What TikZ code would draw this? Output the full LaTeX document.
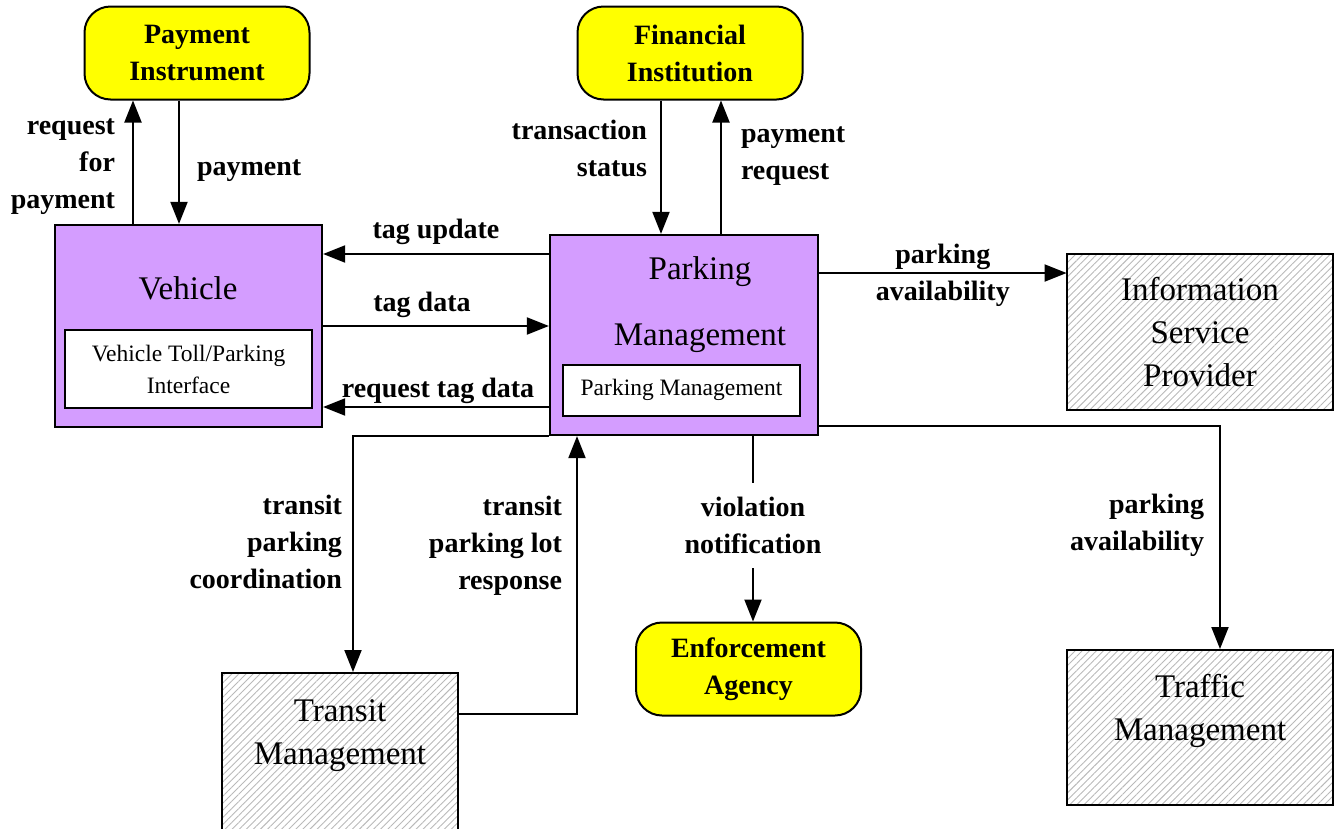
\documentclass[tikz,border=0pt]{standalone}
\usepackage{fontspec}
\setmainfont{Liberation Serif}
\usepackage{xcolor}
\usetikzlibrary{arrows.meta,patterns.meta}

\definecolor{sysfill}{RGB}{212,157,255}
\definecolor{termfill}{RGB}{255,255,0}

\newcommand{\lblfont}{\fontsize{28}{37}\selectfont\bfseries}
\newcommand{\boxfont}{\fontsize{33}{43}\selectfont}
\newcommand{\subfont}{\fontsize{23.5}{32}\selectfont}

\begin{document}
\begin{tikzpicture}[
    x=1pt, y=-1pt,
    >={Triangle[width=17pt,length=22pt]},
    sysbox/.style={draw, line width=2.2pt, fill=sysfill, inner sep=0pt},
    subbox/.style={draw, line width=2pt, fill=white, align=center, font=\subfont, inner sep=0pt},
    termbox/.style={draw, line width=2pt, fill=termfill, rounded corners=26pt, align=center, font=\lblfont, inner sep=0pt, minimum width=225pt, minimum height=93pt},
    extbox/.style={draw, line width=2pt, pattern={Lines[angle=45,distance=5pt,line width=0.9pt]}, pattern color=gray!55, align=center, font=\boxfont, inner sep=0pt},
    boxtext/.style={align=center, font=\boxfont, inner sep=0pt},
    flowlabel/.style={font=\lblfont, inner sep=0pt},
    flow/.style={->, line width=2pt}
]
\useasboundingbox (0,0) rectangle (1335,828);
\clip (0,0) rectangle (1335,828);

% terminators
\node[termbox] (payinst) at (197,53) {Payment\\Instrument};
\node[termbox] (fininst) at (690,53) {Financial\\Institution};
\node[termbox] (enforce) at (748.5,669) {Enforcement\\Agency};

% subsystems
\node[sysbox, minimum width=267pt, minimum height=202pt] (vehicle) at (188.5,326) {};
\node[boxtext] (vehlbl) at (188,288) {Vehicle};
\node[subbox, minimum width=247pt, minimum height=78pt] (vehsub) at (188.5,369) {Vehicle Toll/Parking\\Interface};

\node[sysbox, minimum width=268pt, minimum height=200pt] (parking) at (684,335) {};
\node[boxtext] (parklbl) at (700,305) {Parking\\[23pt]Management};
\node[subbox, minimum width=237pt, minimum height=51pt] (parksub) at (681.5,390) {Parking Management};

% external systems
\node[extbox, minimum width=266pt, minimum height=156pt] (isp) at (1200,332) {Information\\Service\\Provider};
\node[extbox, minimum width=236pt, minimum height=170pt] (transit) at (340,758) {};
\node[boxtext] (translbl) at (340,736) {Transit\\Management};
\node[extbox, minimum width=266pt, minimum height=155pt] (traffic) at (1200,727.5) {};
\node[boxtext] (traflbl) at (1200,711) {Traffic\\Management};

% flows
\draw[flow] (vehicle.north -| 133,0) -- (payinst.south -| 133,0)
    node[flowlabel, align=right, anchor=east, midway, xshift=-17pt, yshift=-4pt] (rfp) {request\\for\\payment};
\draw[flow] (payinst.south -| 179,0) -- (vehicle.north -| 179,0)
    node[flowlabel, anchor=west, midway, xshift=17pt, yshift=-8pt] (pay) {payment};

\draw[flow] (parking.west |- 0,254) -- (vehicle.east |- 0,254)
    node[flowlabel, midway, above=8pt] (tagupd) {tag update};
\draw[flow] (vehicle.east |- 0,326) -- (parking.west |- 0,326)
    node[flowlabel, midway, above=7pt, xshift=-14pt] (tagdata) {tag data};
\draw[flow] (parking.west |- 0,407) -- (vehicle.east |- 0,407)
    node[flowlabel, midway, above=2pt, xshift=2pt] (reqtag) {request tag data};

\draw[flow] (fininst.south -| 661,0) -- (parking.north -| 661,0)
    node[flowlabel, align=right, anchor=east, midway, xshift=-13pt, yshift=19pt] (txstat) {transaction\\status};
\draw[flow] (parking.north -| 721,0) -- (fininst.south -| 721,0)
    node[flowlabel, align=left, anchor=west, midway, xshift=19pt, yshift=11pt] (payreq) {payment\\request};

\draw[flow] (parking.east |- 0,273) -- (isp.west |- 0,273)
    node[flowlabel, align=center, midway, yshift=-2pt] (avail1) {parking\\availability};

\draw[flow] (parking.south west) -| (transit.north -| 353,0)
    node[flowlabel, align=right, anchor=east, pos=0.75, xshift=-10pt, yshift=12pt] (tpc) {transit\\parking\\coordination};
\draw[flow] (transit.east |- 0,714) -| (parking.south -| 577,0)
    node[flowlabel, align=right, anchor=east, pos=0.75, xshift=-14pt, yshift=29pt] (tplr) {transit\\parking lot\\response};

\draw[flow] (parking.south -| 753,0) -- (enforce.north -| 753,0)
    node[flowlabel, align=center, midway, fill=white, inner ysep=14pt, yshift=3pt] (viol) {violation\\notification};

\draw[flow] (parking.east |- 0,426) -| (traffic.north -| 1220,0)
    node[flowlabel, align=right, anchor=east, pos=0.75, xshift=-15pt, yshift=12pt] (avail2) {parking\\availability};
\end{tikzpicture}
\end{document}
